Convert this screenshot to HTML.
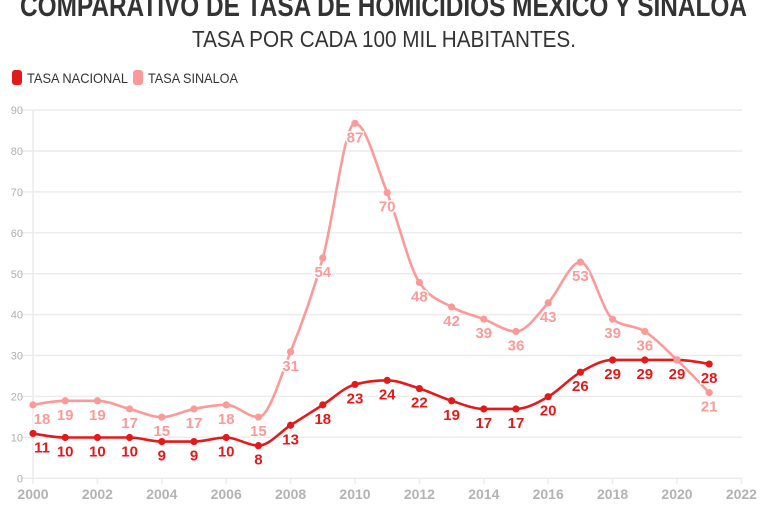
<!DOCTYPE html>
<html><head><meta charset="utf-8"><style>
html,body{margin:0;padding:0;background:#fff;}
svg{display:block;}
text{font-family:"Liberation Sans",sans-serif;}
.yl{font-size:11px;fill:#b0b0b0;text-anchor:end;}
.xl{font-size:14px;font-weight:bold;fill:#b3b3b3;text-anchor:middle;}
.ln{font-size:15px;font-weight:bold;fill:#e31a1c;text-anchor:middle;stroke:#fff;stroke-width:3px;paint-order:stroke;stroke-linejoin:round;}
.ls{font-size:15px;font-weight:bold;fill:#fb9a99;text-anchor:middle;stroke:#fff;stroke-width:3px;paint-order:stroke;stroke-linejoin:round;}
</style></head><body>
<svg id="c" width="768" height="512" viewBox="0 0 768 512" xmlns="http://www.w3.org/2000/svg">
<text x="383.5" y="16" font-size="30" font-weight="bold" fill="#333" text-anchor="middle" textLength="727" lengthAdjust="spacingAndGlyphs">COMPARATIVO DE TASA DE HOMICIDIOS MÉXICO Y SINALOA</text>
<text x="384" y="47" font-size="23" fill="#333" text-anchor="middle" textLength="384" lengthAdjust="spacingAndGlyphs">TASA POR CADA 100 MIL HABITANTES.</text>
<rect x="12" y="70" width="10" height="15" rx="3" fill="#e31a1c"/>
<text x="27" y="83" font-size="14" fill="#333" textLength="101" lengthAdjust="spacingAndGlyphs">TASA NACIONAL</text>
<rect x="133" y="70" width="10" height="15" rx="3" fill="#fb9a99"/>
<text x="148" y="83" font-size="14" fill="#333" textLength="90" lengthAdjust="spacingAndGlyphs">TASA SINALOA</text>
<g stroke="#ececec" stroke-width="1.5">
<line x1="20" x2="742" y1="110.1" y2="110.1"/>
<line x1="20" x2="742" y1="151.0" y2="151.0"/>
<line x1="20" x2="742" y1="191.9" y2="191.9"/>
<line x1="20" x2="742" y1="232.8" y2="232.8"/>
<line x1="20" x2="742" y1="273.7" y2="273.7"/>
<line x1="20" x2="742" y1="314.6" y2="314.6"/>
<line x1="20" x2="742" y1="355.5" y2="355.5"/>
<line x1="20" x2="742" y1="396.4" y2="396.4"/>
<line x1="20" x2="742" y1="437.3" y2="437.3"/>
<line x1="20" x2="742" y1="478.3" y2="478.3"/>
<line x1="33" x2="33" y1="110" y2="484"/>
<line x1="97.4" x2="97.4" y1="478" y2="484"/>
<line x1="161.8" x2="161.8" y1="478" y2="484"/>
<line x1="226.2" x2="226.2" y1="478" y2="484"/>
<line x1="290.6" x2="290.6" y1="478" y2="484"/>
<line x1="355" x2="355" y1="478" y2="484"/>
<line x1="419.4" x2="419.4" y1="478" y2="484"/>
<line x1="483.8" x2="483.8" y1="478" y2="484"/>
<line x1="548.2" x2="548.2" y1="478" y2="484"/>
<line x1="612.6" x2="612.6" y1="478" y2="484"/>
<line x1="677" x2="677" y1="478" y2="484"/>
<line x1="741.4" x2="741.4" y1="478" y2="484"/>
</g>
<g class="yl">
<text x="23" y="114">90</text>
<text x="23" y="155">80</text>
<text x="23" y="196">70</text>
<text x="23" y="237">60</text>
<text x="23" y="278">50</text>
<text x="23" y="318.5">40</text>
<text x="23" y="359.5">30</text>
<text x="23" y="400.5">20</text>
<text x="23" y="441.5">10</text>
<text x="23" y="482.5">0</text>
</g>
<g class="xl">
<text x="33" y="499">2000</text>
<text x="97.4" y="499">2002</text>
<text x="161.8" y="499">2004</text>
<text x="226.2" y="499">2006</text>
<text x="290.6" y="499">2008</text>
<text x="355" y="499">2010</text>
<text x="419.4" y="499">2012</text>
<text x="483.8" y="499">2014</text>
<text x="548.2" y="499">2016</text>
<text x="612.6" y="499">2018</text>
<text x="677" y="499">2020</text>
<text x="741.4" y="499">2022</text>
</g>
<path id="pn" fill="none" stroke="#e31a1c" stroke-width="2.6" stroke-linejoin="round"/>
<path id="ps" fill="none" stroke="#fb9a99" stroke-width="2.6" stroke-linejoin="round"/>
<g id="dn" fill="#e31a1c"></g>
<g id="ds" fill="#fb9a99"></g>
<g class="ls">
<text x="42" y="423.9">18</text>
<text x="65.2" y="419.8">19</text>
<text x="97.4" y="419.8">19</text>
<text x="129.6" y="427.9">17</text>
<text x="161.8" y="436.1">15</text>
<text x="194" y="427.9">17</text>
<text x="226.2" y="423.9">18</text>
<text x="258.4" y="436.1">15</text>
<text x="290.6" y="370.8">31</text>
<text x="322.8" y="277.0">54</text>
<text x="355" y="142.3">87</text>
<text x="387.2" y="211.7">70</text>
<text x="419.4" y="301.5">48</text>
<text x="451.6" y="325.9">42</text>
<text x="483.8" y="338.2">39</text>
<text x="516" y="350.4">36</text>
<text x="548.2" y="321.9">43</text>
<text x="580.4" y="281.1">53</text>
<text x="612.6" y="338.2">39</text>
<text x="644.8" y="350.4">36</text>
<text x="677" y="379.0">29</text>
<text x="709.2" y="411.6">21</text>
</g>
<g class="ln">
<text x="42" y="452.4">11</text>
<text x="65.2" y="456.5">10</text>
<text x="97.4" y="456.5">10</text>
<text x="129.6" y="456.5">10</text>
<text x="161.8" y="460.6">9</text>
<text x="194" y="460.6">9</text>
<text x="226.2" y="456.5">10</text>
<text x="258.4" y="464.7">8</text>
<text x="290.6" y="444.3">13</text>
<text x="322.8" y="423.9">18</text>
<text x="355" y="403.5">23</text>
<text x="387.2" y="399.4">24</text>
<text x="419.4" y="407.5">22</text>
<text x="451.6" y="419.8">19</text>
<text x="483.8" y="427.9">17</text>
<text x="516" y="427.9">17</text>
<text x="548.2" y="415.7">20</text>
<text x="580.4" y="391.2">26</text>
<text x="612.6" y="379.0">29</text>
<text x="644.8" y="379.0">29</text>
<text x="677" y="379.0">29</text>
<text x="709.2" y="383.1">28</text>
</g>
</svg>
<script>
(function(){
var nat=[11,10,10,10,9,9,10,8,13,18,23,24,22,19,17,17,20,26,29,29,29,28];
var sin=[18,19,19,17,15,17,18,15,31,54,87,70,48,42,39,36,43,53,39,36,29,21];
function X(i){return 33+i*32.2;}
function Y(v){return 478.3-v*4.08;}
function sign(a){return a<0?-1:1;}
function mono(vals){
  var n=vals.length,xs=[],ys=[],t=[],i;
  for(i=0;i<n;i++){xs.push(X(i));ys.push(Y(vals[i]));}
  for(i=1;i<n-1;i++){
    var h0=xs[i]-xs[i-1],h1=xs[i+1]-xs[i];
    var s0=(ys[i]-ys[i-1])/h0,s1=(ys[i+1]-ys[i])/h1;
    var p=(s0*h1+s1*h0)/(h0+h1);
    t[i]=(sign(s0)+sign(s1))*Math.min(Math.abs(s0),Math.abs(s1),0.5*Math.abs(p))||0;
  }
  var h=xs[1]-xs[0];
  t[0]=(3*(ys[1]-ys[0])/h-t[1])/2;
  h=xs[n-1]-xs[n-2];
  t[n-1]=(3*(ys[n-1]-ys[n-2])/h-t[n-2])/2;
  var d="M"+xs[0].toFixed(2)+","+ys[0].toFixed(2);
  for(i=0;i<n-1;i++){
    var dx=(xs[i+1]-xs[i])/3;
    d+="C"+(xs[i]+dx).toFixed(2)+","+(ys[i]+dx*t[i]).toFixed(2)+","+(xs[i+1]-dx).toFixed(2)+","+(ys[i+1]-dx*t[i+1]).toFixed(2)+","+xs[i+1].toFixed(2)+","+ys[i+1].toFixed(2);
  }
  return d;
}
document.getElementById("pn").setAttribute("d",mono(nat));
document.getElementById("ps").setAttribute("d",mono(sin));
var NS="http://www.w3.org/2000/svg";
function dots(id,vals){
  var g=document.getElementById(id);
  for(var i=0;i<vals.length;i++){
    var c=document.createElementNS(NS,"circle");
    c.setAttribute("cx",X(i));c.setAttribute("cy",Y(vals[i]));c.setAttribute("r","3.6");
    g.appendChild(c);
  }
}
dots("dn",nat);dots("ds",sin);
})();
</script>
</body></html>
